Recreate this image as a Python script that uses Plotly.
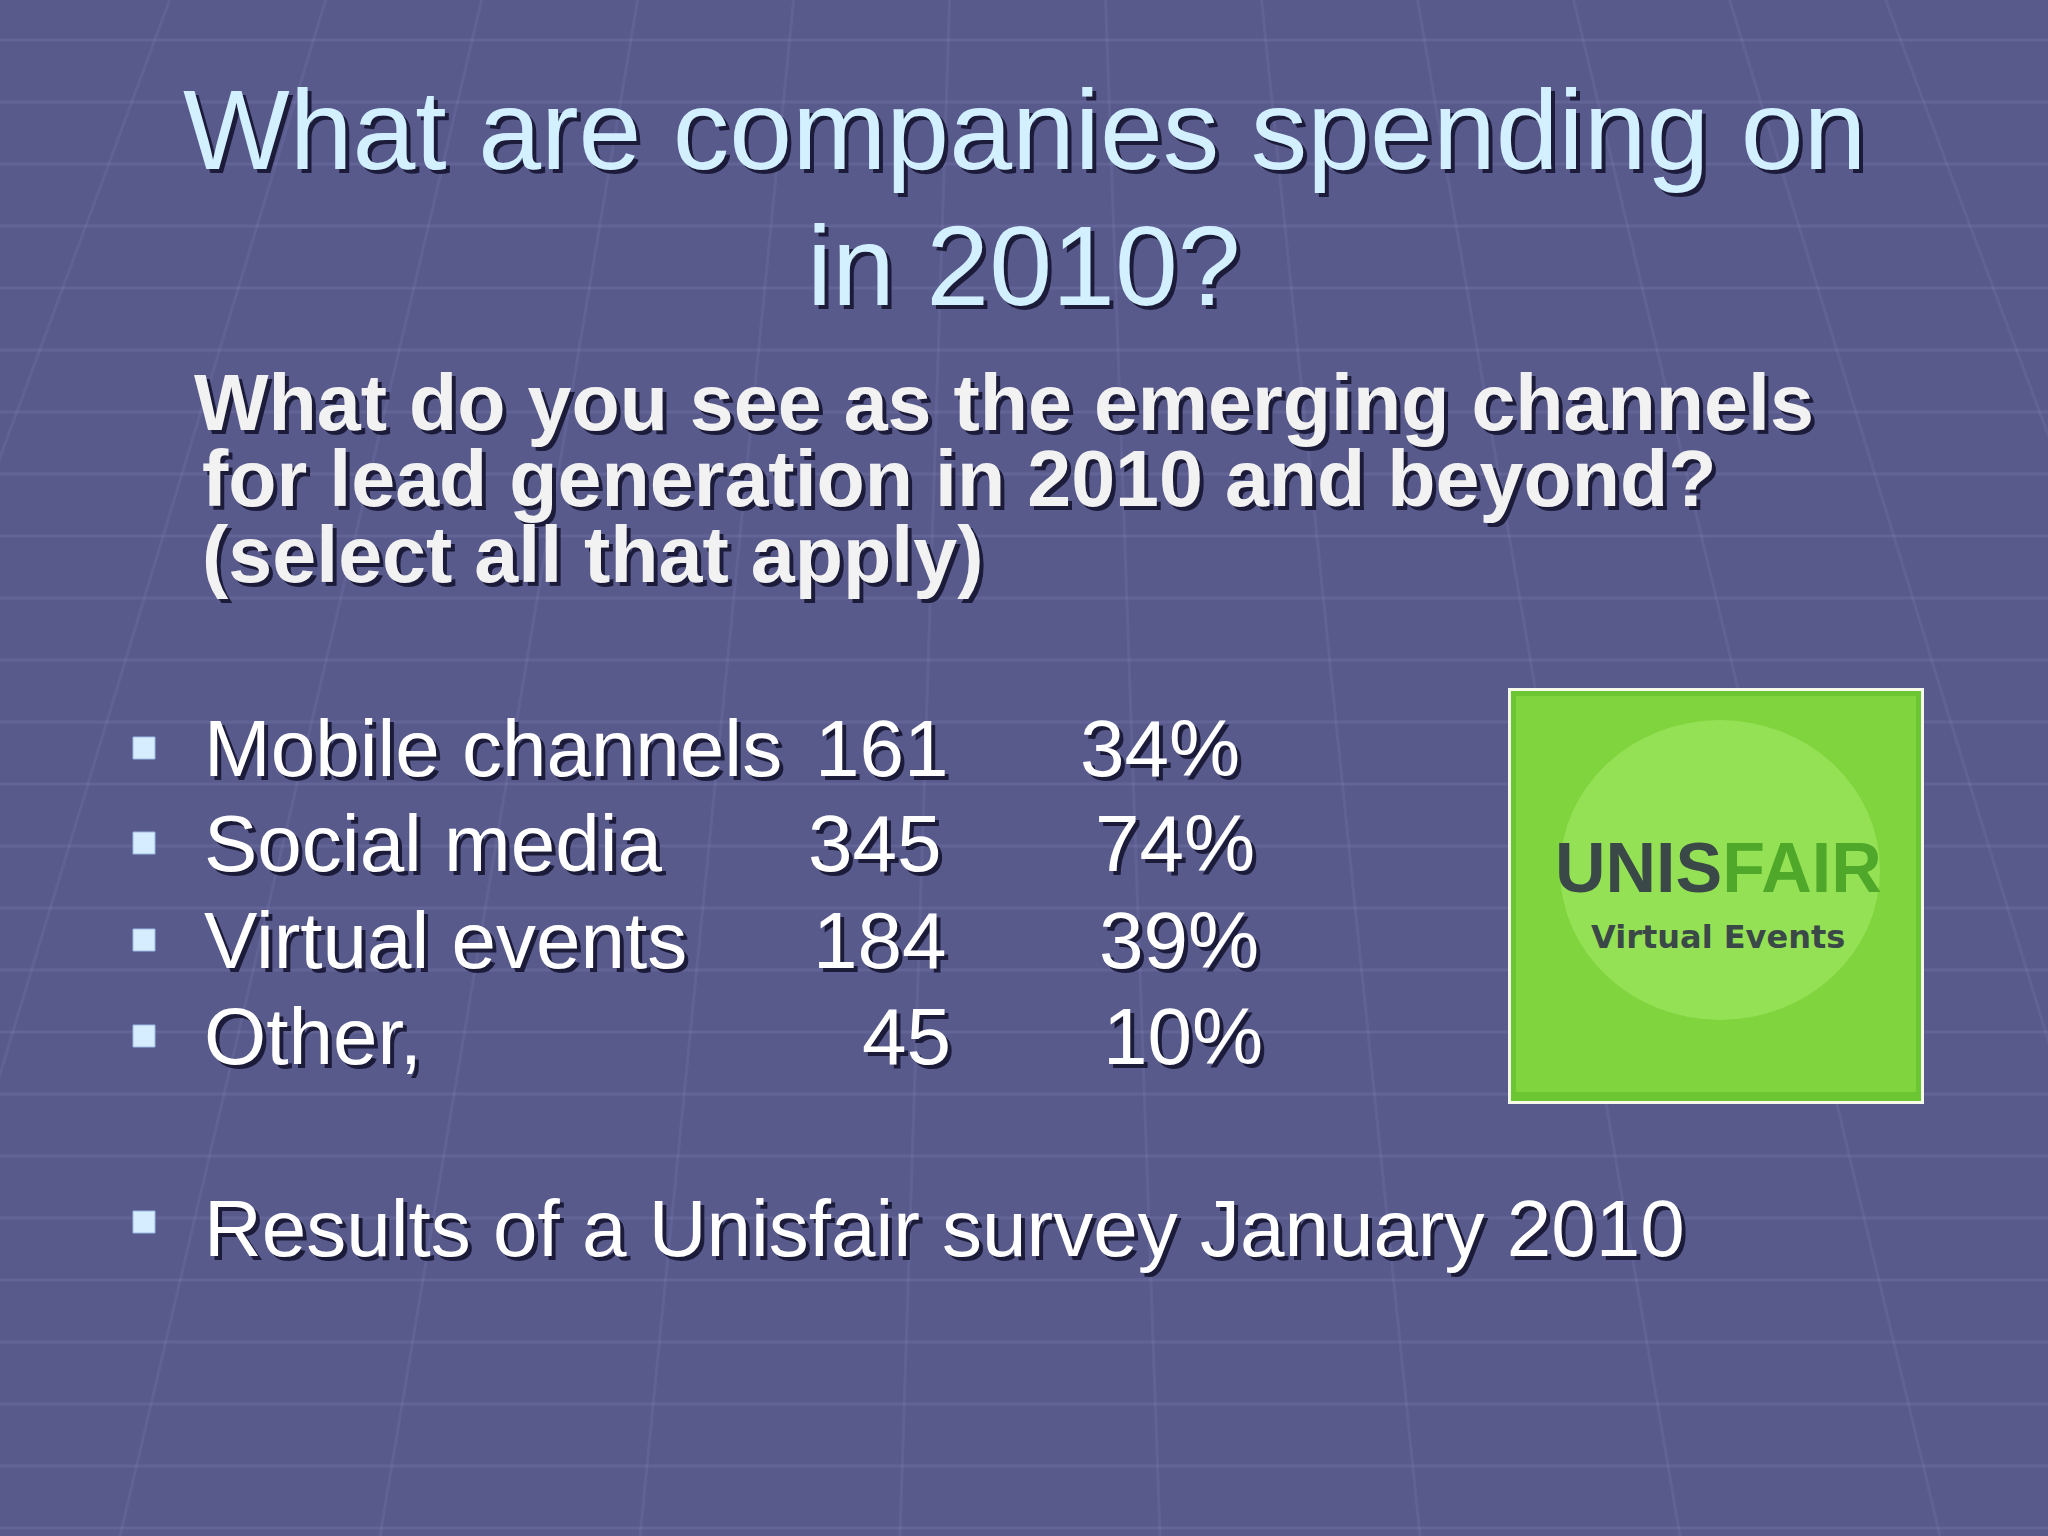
import plotly.graph_objects as go

categories = ["Mobile channels", "Social media", "Virtual events", "Other,"]
counts = [161, 345, 184, 45]
percents = ["34%", "74%", "39%", "10%"]
title_lines = ["What are companies spending on", "in 2010?"]
question_lines = ["What do you see as the emerging channels", "for lead generation in 2010 and beyond?", "(select all that apply)"]
footnote = "Results of a Unisfair survey January 2010"

W, H = 2048, 1536
FONT = "Liberation Sans, Arial"
fig = go.Figure()
ann = []

def text(x, y, s, size, color, anchor="left", bold=False, shadow=True, font=FONT):
    s2 = f"<b>{s}</b>" if bold else s
    if shadow:
        ann.append(dict(x=x + 4, y=y + 4, text=s2, showarrow=False, xanchor=anchor, yanchor="middle",
                        font=dict(size=size, color="#1c1c3a", family=font)))
    ann.append(dict(x=x, y=y, text=s2, showarrow=False, xanchor=anchor, yanchor="middle",
                    font=dict(size=size, color=color, family=font)))

text(1024, 130, title_lines[0], 113, "#d2f0ff", "center")
text(1024, 266, title_lines[1], 113, "#d2f0ff", "center")
qx = [192, 200, 200]
for i, l in enumerate(question_lines):
    text(qx[i], 402 + i * 76, l, 79, "#f2f2f2", bold=True)

ys = [748, 843, 940, 1036]
cx = [950, 943, 948, 953]
px = [1242, 1257, 1261, 1265]
for i, c in enumerate(categories):
    text(202, ys[i], c, 80, "#ffffff")
    text(cx[i], ys[i], str(counts[i]), 80, "#ffffff", "right")
    text(px[i], ys[i], percents[i], 80, "#ffffff", "right")
text(202, 1228, footnote, 80, "#ffffff")

fig.add_trace(go.Scatter(x=[144] * 5, y=ys + [1222], mode="markers",
                         marker=dict(symbol="square", size=22, color="#d6ecff",
                                     line=dict(color="#9ab8e0", width=1)),
                         hoverinfo="skip", showlegend=False))

shapes = []
for yy in range(40, 1536, 62):
    shapes.append(dict(type="line", x0=0, x1=W, y0=yy, y1=yy, line=dict(color="rgba(150,150,200,0.18)", width=3), layer="below"))
for xx in range(-400, 2500, 260):
    shapes.append(dict(type="line", x0=1024 + (xx - 1024) * 0.6, x1=xx, y0=0, y1=H,
                       line=dict(color="rgba(150,150,200,0.15)", width=3), layer="below"))
shapes.append(dict(type="rect", x0=1508, x1=1924, y0=688, y1=1104, fillcolor="#f4fbe8", line=dict(width=0)))
shapes.append(dict(type="rect", x0=1511, x1=1921, y0=691, y1=1101, fillcolor="#6cc533", line=dict(width=0)))
shapes.append(dict(type="rect", x0=1516, x1=1916, y0=696, y1=1092, fillcolor="#80d43e", line=dict(width=0)))
shapes.append(dict(type="circle", x0=1560, x1=1880, y0=720, y1=1020, fillcolor="rgba(200,255,140,0.3)", line=dict(width=0)))
ann.append(dict(x=1718, y=868, text="<b><span style='color:#3b4848'>UNIS</span><span style='color:#4fa82a'>FAIR</span></b>",
                showarrow=False, xanchor="center", yanchor="middle", font=dict(size=70, family=FONT)))
ann.append(dict(x=1718, y=937, text="<b>Virtual Events</b>", showarrow=False, xanchor="center", yanchor="middle",
                font=dict(size=32, color="#3b4848", family="DejaVu Sans")))

fig.update_layout(width=W, height=H, margin=dict(l=0, r=0, t=0, b=0),
                  paper_bgcolor="#585a8c", plot_bgcolor="#585a8c",
                  xaxis=dict(range=[0, W], visible=False, fixedrange=True),
                  yaxis=dict(range=[H, 0], visible=False, fixedrange=True),
                  annotations=ann, shapes=shapes)
fig.write_html("out.html", config={"displayModeBar": False},
               post_script="document.body.style.margin='0';document.body.style.background='#585a8c';")
